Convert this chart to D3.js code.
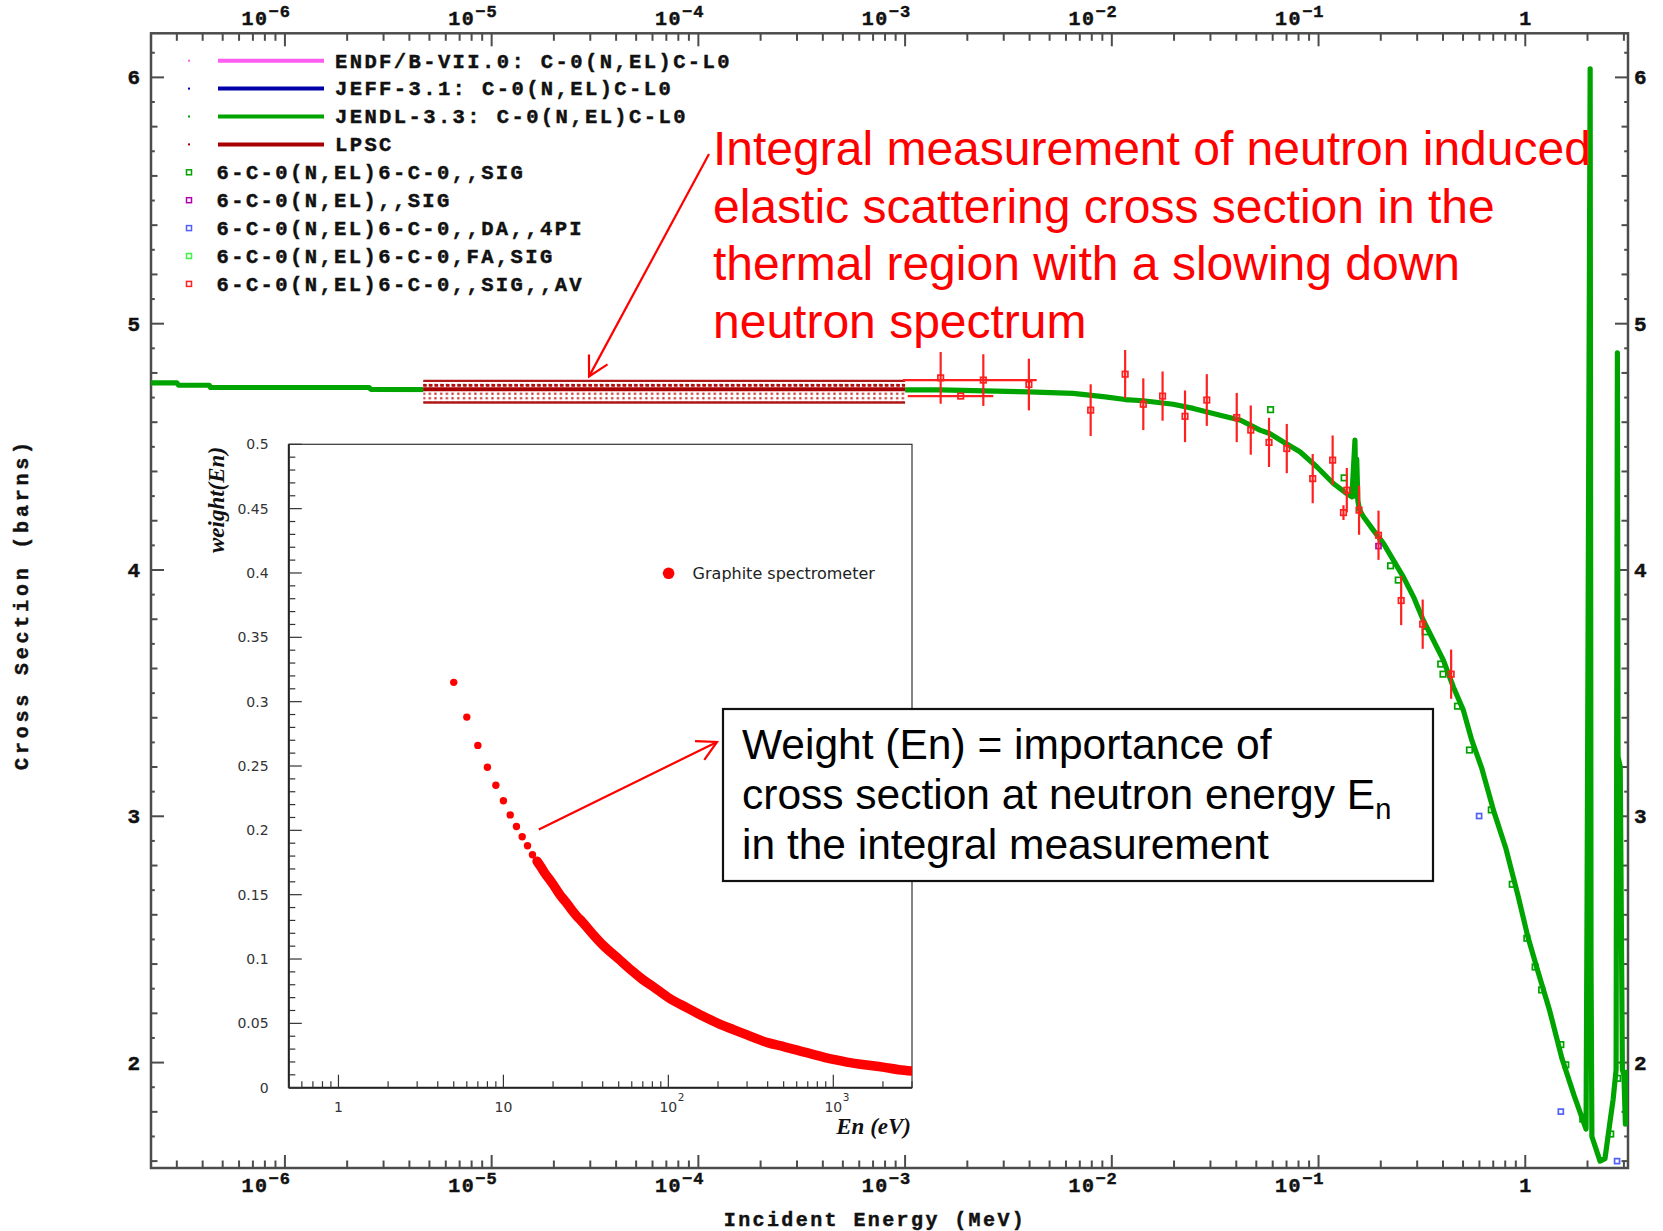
<!DOCTYPE html>
<html><head><meta charset="utf-8">
<script src="https://cdn.jsdelivr.net/npm/d3@7"></script>
<style>body{margin:0;background:#fff;} svg{display:block;}</style>
</head><body>
<svg id="c" width="1663" height="1231"></svg>
<script>
// ================= DATA =================
// JENDL-3.3 C-0(N,EL) evaluated cross section (MeV, barns)
const jendlE = [2.25e-7, 3.0e-7, 3.06e-7, 4.3e-7, 4.37e-7, 2.55e-6, 2.61e-6, 1.48e-3, 3.94e-3, 6.5e-3, 9.3e-3, 0.0116, 0.0142, 0.0198, 0.0248, 0.0334, 0.042, 0.0467, 0.0521, 0.058, 0.0676, 0.0813, 0.098, 0.118, 0.137, 0.145, 0.150, 0.1515, 0.153, 0.155, 0.158, 0.165, 0.184, 0.206, 0.230, 0.257, 0.288, 0.321, 0.359, 0.402, 0.449, 0.502, 0.551, 0.615, 0.705, 0.806, 0.923, 1.028, 1.147, 1.313, 1.503, 1.722, 1.968, 1.99, 2.06, 2.08, 2.10, 2.30, 2.43, 2.57, 2.66, 2.75, 2.79, 2.81, 2.88, 2.95, 3.00, 3.05, 3.08, 3.14];
const jendlXS = [4.760, 4.760, 4.750, 4.750, 4.741, 4.741, 4.733, 4.731, 4.723, 4.717, 4.703, 4.692, 4.687, 4.673, 4.656, 4.628, 4.608, 4.588, 4.568, 4.554, 4.520, 4.480, 4.419, 4.351, 4.310, 4.297, 4.527, 4.300, 4.450, 4.280, 4.243, 4.216, 4.162, 4.108, 4.040, 3.972, 3.891, 3.796, 3.715, 3.633, 3.525, 3.430, 3.309, 3.197, 3.019, 2.869, 2.677, 2.512, 2.375, 2.210, 2.018, 1.867, 1.730, 2.640, 6.035, 2.420, 1.700, 1.600, 1.610, 1.760, 1.850, 1.970, 4.882, 3.243, 3.200, 1.970, 1.950, 1.750, 1.960, 1.950];

// LPSC integral measurement band
const lpscE = [4.67e-6, 1.0e-3];
const lpscXS = [4.734];
const lpscHi = [4.768];
const lpscLo = [4.680];

// 6-C-0(N,EL)6-C-0,,SIG,,AV  (red, with error bars)
const avE   = [1.486e-3, 1.858e-3, 2.39e-3, 3.97e-3, 7.9e-3, 0.0116, 0.0142, 0.0176, 0.0226, 0.0288, 0.0402, 0.047, 0.0576, 0.0702, 0.0937, 0.117, 0.132, 0.137, 0.157, 0.195, 0.251, 0.319, 0.438];
const avXS  = [4.780, 4.706, 4.771, 4.753, 4.649, 4.795, 4.673, 4.706, 4.624, 4.690, 4.619, 4.568, 4.518, 4.493, 4.371, 4.446, 4.233, 4.324, 4.243, 4.141, 3.876, 3.780, 3.577];
const avErr = [0.105, 0, 0.105, 0.105, 0.105, 0.098, 0.105, 0.100, 0.105, 0.105, 0.100, 0.100, 0.100, 0.100, 0.100, 0.100, 0.030, 0.090, 0.100, 0.100, 0.100, 0.100, 0.100];
const avXlo = [0, 1.03e-3, 9.77e-4, 0, 0, 0, 0, 0, 0, 0, 0, 0, 0, 0, 0, 0, 0, 0, 0, 0, 0, 0, 0];
const avXhi = [0, 2.67e-3, 4.33e-3, 0, 0, 0, 0, 0, 0, 0, 0, 0, 0, 0, 0, 0, 0, 0, 0, 0, 0, 0, 0];

// 6-C-0(N,EL)6-C-0,,SIG (green squares)
const sigE  = [0.0586, 0.133, 0.223, 0.243, 0.328, 0.39, 0.40, 0.47, 0.537, 0.685, 0.865, 1.018, 1.116, 1.2, 1.486, 1.57, 1.897, 2.59, 2.80];
const sigXS = [4.651, 4.374, 4.017, 3.959, 3.749, 3.618, 3.577, 3.447, 3.269, 3.026, 2.724, 2.505, 2.388, 2.295, 2.073, 1.991, 1.771, 1.710, 1.936];
// 6-C-0(N,EL)6-C-0,,DA,,4PI (blue squares)
const da4piE  = [0.598, 1.486, 2.78];
const da4piXS = [3.001, 1.801, 1.600];
// 6-C-0(N,EL),,SIG (purple squares)
const nelE  = [0.195];
const nelXS = [4.097];

// Inset: Graphite spectrometer weight(En)
const inEn = [5, 6, 7, 8, 9, 10, 11, 12, 13, 14, 15, 16, 17, 18, 19, 20, 22, 24, 26, 28, 30, 35, 40, 50, 60, 70, 80, 100, 130, 160, 200, 250, 300, 400, 500, 700, 1000, 1500, 2000, 2500, 3000];
const inW  = [0.315, 0.288, 0.266, 0.249, 0.235, 0.223, 0.212, 0.203, 0.195, 0.188, 0.181, 0.176, 0.171, 0.166, 0.162, 0.158, 0.150, 0.144, 0.138, 0.133, 0.129, 0.119, 0.111, 0.100, 0.091, 0.084, 0.079, 0.070, 0.062, 0.056, 0.050, 0.045, 0.041, 0.035, 0.032, 0.027, 0.022, 0.018, 0.016, 0.014, 0.013];

// Legend
const legendLines   = ["ENDF/B-VII.0: C-0(N,EL)C-L0", "JEFF-3.1: C-0(N,EL)C-L0", "JENDL-3.3: C-0(N,EL)C-L0", "LPSC"];
const legendMarkers = ["6-C-0(N,EL)6-C-0,,SIG", "6-C-0(N,EL),,SIG", "6-C-0(N,EL)6-C-0,,DA,,4PI", "6-C-0(N,EL)6-C-0,FA,SIG", "6-C-0(N,EL)6-C-0,,SIG,,AV"];
const legendLineColors   = ["#ff5cf0", "#0000a8", "#00a400", "#a80000"];
const legendMarkerColors = ["#00a400", "#b000b0", "#5060ff", "#44ee44", "#ff2020"];

// Ticks
const xTickVals = [1e-6, 1e-5, 1e-4, 1e-3, 1e-2, 1e-1, 1];
const yTickVals = [2, 3, 4, 5, 6];
const insetYTickVals = [0, 0.05, 0.1, 0.15, 0.2, 0.25, 0.3, 0.35, 0.4, 0.45, 0.5];
const insetYTickLabels = ["0", "0.05", "0.1", "0.15", "0.2", "0.25", "0.3", "0.35", "0.4", "0.45", "0.5"];
const insetXTickVals = [1, 10, 100, 1000];
const insetXTickBase = ["1", "10", "10", "10"];
const insetXTickSup  = ["", "", "2", "3"];

// Annotations
const noteRed = ["Integral measurement of neutron induced", "elastic scattering cross section in the", "thermal region with a slowing down", "neutron spectrum"];
const noteBox = ["Weight (En) = importance of", "cross section at neutron energy E", "in the integral measurement"];

// ================= DRAW =================
const svg = d3.select("#c");
svg.append("rect").attr("width", 1663).attr("height", 1231).attr("fill", "#fff");

const M = {x0: 151, x1: 1628, y0: 33.3, y1: 1168};
const x = d3.scaleLog().domain([2.25e-7, 3.14]).range([M.x0, M.x1]);
const y = d3.scaleLinear().domain([1.572, 6.179]).range([M.y1, M.y0]);

const defs = svg.append("defs");
defs.append("clipPath").attr("id", "clipMain").append("rect")
  .attr("x", M.x0).attr("y", M.y0).attr("width", M.x1 - M.x0).attr("height", M.y1 - M.y0);
const pat = defs.append("pattern").attr("id", "dots").attr("patternUnits", "userSpaceOnUse")
  .attr("width", 5.7).attr("height", 4.4);
pat.append("rect").attr("width", 5.7).attr("height", 4.4).attr("fill", "#fff");
pat.append("rect").attr("x", 1.2).attr("y", 1.2).attr("width", 2.2).attr("height", 2).attr("fill", "#c01818");

const mono = "'Liberation Mono', 'DejaVu Sans Mono', monospace";
const axisCol = "#4c4c4c";
const boldMono = sel => sel.attr("font-family", mono).attr("font-weight", "bold")
  .attr("fill", "#111").attr("stroke", "#111").attr("stroke-width", 0.45);

// frame
svg.append("rect").attr("x", M.x0).attr("y", M.y0).attr("width", M.x1 - M.x0).attr("height", M.y1 - M.y0)
  .attr("fill", "none").attr("stroke", axisCol).attr("stroke-width", 2.5);

// x ticks (log)
const xAll = x.ticks(100).filter(v => v >= x.domain()[0] && v <= x.domain()[1]);
const gx = svg.append("g").attr("stroke", axisCol).attr("stroke-width", 2);
xAll.forEach(v => {
  const lg = Math.log10(v);
  const major = Math.abs(lg - Math.round(lg)) < 1e-9;
  const L = major ? 13 : 7.5;
  gx.append("line").attr("x1", x(v)).attr("x2", x(v)).attr("y1", M.y0).attr("y2", M.y0 + L);
  gx.append("line").attr("x1", x(v)).attr("x2", x(v)).attr("y1", M.y1).attr("y2", M.y1 - L);
});
// y ticks (every 0.1)
const gy = svg.append("g").attr("stroke", axisCol).attr("stroke-width", 2);
d3.range(16, 62).map(i => i / 10).filter(v => v >= y.domain()[0] && v <= y.domain()[1]).forEach(v => {
  const k = Math.round(v * 10);
  const L = (k % 10 === 0) ? 13 : (k % 2 === 0 ? 6.5 : 3.8);
  gy.append("line").attr("x1", M.x0).attr("x2", M.x0 + L).attr("y1", y(v)).attr("y2", y(v));
  gy.append("line").attr("x1", M.x1).attr("x2", M.x1 - L).attr("y1", y(v)).attr("y2", y(v));
});

// x tick labels top & bottom
function xLabel(v, baseY) {
  const lg = Math.round(Math.log10(v));
  const t = svg.append("text").attr("x", x(v) + 6).attr("y", baseY).attr("text-anchor", "end")
    .attr("font-size", 20).call(boldMono);
  if (lg === 0) { t.text("1"); return; }
  t.append("tspan").text("10").attr("letter-spacing", 1.5);
  t.append("tspan").text("\u2212" + Math.abs(lg)).attr("font-size", 17).attr("dy", -8).attr("letter-spacing", 1);
}
xTickVals.forEach(v => { xLabel(v, 25); xLabel(v, 1191.5); });

// y tick labels left & right
yTickVals.forEach(v => {
  svg.append("text").attr("x", 140).attr("y", y(v) + 7).attr("text-anchor", "end")
    .attr("font-size", 21).call(boldMono).text(v);
  svg.append("text").attr("x", 1634).attr("y", y(v) + 7).attr("text-anchor", "start")
    .attr("font-size", 21).call(boldMono).text(v);
});

// axis titles
svg.append("text").attr("x", 875).attr("y", 1225.5).attr("text-anchor", "middle")
  .attr("font-size", 20).attr("letter-spacing", 2.4).call(boldMono).text("Incident Energy (MeV)");
svg.append("text").attr("transform", "translate(28,604) rotate(-90)").attr("text-anchor", "middle")
  .attr("font-size", 20).attr("letter-spacing", 3.8).call(boldMono).text("Cross Section (barns)");

// ---- plot content ----
const plot = svg.append("g").attr("clip-path", "url(#clipMain)");

// JENDL-3.3 curve
const jendl = jendlE.map((e, i) => [e, jendlXS[i]]);
plot.append("path").datum(jendl)
  .attr("d", d3.line().x(d => x(d[0])).y(d => y(d[1])))
  .attr("fill", "none").attr("stroke", legendLineColors[2]).attr("stroke-width", 5.2)
  .attr("stroke-linejoin", "round");

// LPSC band
const bx0 = x(lpscE[0]), bx1 = x(lpscE[1]);
plot.append("rect").attr("x", bx0).attr("y", y(lpscHi[0])).attr("width", bx1 - bx0)
  .attr("height", y(lpscLo[0]) - y(lpscHi[0])).attr("fill", "url(#dots)");
plot.append("line").attr("x1", bx0).attr("x2", bx1).attr("y1", y(lpscHi[0]) + 4.5).attr("y2", y(lpscHi[0]) + 4.5)
  .attr("stroke", "#b01010").attr("stroke-width", 2.6).attr("stroke-dasharray", "3.5,2.2");
[lpscHi[0], lpscLo[0]].forEach(v => {
  plot.append("line").attr("x1", bx0).attr("x2", bx1).attr("y1", y(v)).attr("y2", y(v))
    .attr("stroke", "#b01818").attr("stroke-width", 2.3);
});
plot.append("line").attr("x1", bx0).attr("x2", bx1).attr("y1", y(lpscXS[0])).attr("y2", y(lpscXS[0]))
  .attr("stroke", legendLineColors[3]).attr("stroke-width", 4);

// hollow-square marker helper
function squares(E, S, color, size) {
  plot.append("g").selectAll("rect").data(E.map((e, i) => [e, S[i]])).join("rect")
    .attr("x", d => x(d[0]) - size / 2).attr("y", d => y(d[1]) - size / 2)
    .attr("width", size).attr("height", size)
    .attr("fill", "none").attr("stroke", color).attr("stroke-width", 1.7);
}
squares(sigE, sigXS, legendMarkerColors[0], 5.5);
squares(da4piE, da4piXS, legendMarkerColors[2], 5);
squares(nelE, nelXS, legendMarkerColors[1], 5);

// AV points with error bars
const avCol = legendMarkerColors[4];
const gav = plot.append("g").attr("stroke", avCol);
avE.forEach((e, i) => {
  if (avErr[i] > 0) gav.append("line").attr("x1", x(e)).attr("x2", x(e))
    .attr("y1", y(avXS[i] + avErr[i])).attr("y2", y(avXS[i] - avErr[i])).attr("stroke-width", 2.2);
  if (avXlo[i] > 0) gav.append("line").attr("x1", x(avXlo[i])).attr("x2", x(avXhi[i]))
    .attr("y1", y(avXS[i])).attr("y2", y(avXS[i])).attr("stroke-width", 2.2);
});
squares(avE, avXS, avCol, 5.5);

// ---- legend ----
const lg = svg.append("g").attr("font-size", 20.5).attr("letter-spacing", 2.4).call(boldMono);
const rowY = i => 60.7 + i * 27.9;
legendLines.forEach((t, i) => {
  lg.append("rect").attr("x", 188).attr("y", rowY(i) - 1).attr("width", 2).attr("height", 2)
    .attr("fill", legendLineColors[i]).attr("stroke", "none");
  lg.append("line").attr("x1", 218).attr("x2", 324).attr("y1", rowY(i)).attr("y2", rowY(i))
    .attr("stroke", legendLineColors[i]).attr("stroke-width", 4);
  lg.append("text").attr("x", 335).attr("y", rowY(i) + 6.8).text(t);
});
legendMarkers.forEach((t, j) => {
  const i = j + 4;
  lg.append("rect").attr("x", 186.5).attr("y", rowY(i) - 2.5).attr("width", 5).attr("height", 5)
    .attr("fill", "none").attr("stroke", legendMarkerColors[j]).attr("stroke-width", 1.5);
  lg.append("text").attr("x", 216.5).attr("y", rowY(i) + 6.8).text(t);
});

// ================= INSET =================
const I = {x0: 288.8, x1: 912, y0: 444.3, y1: 1087.7};
const ix = d3.scaleLog().domain([0.5, 3000]).range([I.x0, I.x1]);
const iy = d3.scaleLinear().domain([0, 0.5]).range([I.y1, I.y0]);
defs.append("clipPath").attr("id", "clipInset").append("rect")
  .attr("x", I.x0).attr("y", I.y0).attr("width", I.x1 - I.x0).attr("height", I.y1 - I.y0);
const ig = svg.append("g");
ig.append("rect").attr("x", I.x0).attr("y", I.y0).attr("width", I.x1 - I.x0).attr("height", I.y1 - I.y0)
  .attr("fill", "#fff").attr("stroke", "#333").attr("stroke-width", 1.2);
const sans = "'DejaVu Sans', sans-serif";
// inset data (under axes)
const inPts = inEn.map((e, i) => [e, inW[i]]);
const idg = ig.append("g").attr("clip-path", "url(#clipInset)");
idg.append("path").datum(inPts.filter(d => d[0] >= 16))
  .attr("d", d3.line().x(d => ix(d[0])).y(d => iy(d[1])).curve(d3.curveMonotoneX))
  .attr("fill", "none").attr("stroke", "#ff0000").attr("stroke-width", 9.5).attr("stroke-linecap", "round");
idg.selectAll("circle").data(inPts).join("circle")
  .attr("cx", d => ix(d[0])).attr("cy", d => iy(d[1])).attr("r", 3.7).attr("fill", "#ff0000");
ig.append("line").attr("x1", I.x0).attr("x2", I.x0).attr("y1", I.y0).attr("y2", I.y1).attr("stroke", "#222").attr("stroke-width", 2);
ig.append("line").attr("x1", I.x0).attr("x2", I.x1).attr("y1", I.y1).attr("y2", I.y1).attr("stroke", "#222").attr("stroke-width", 2);
// inset y ticks
d3.range(0, 51).map(i => i / 100).forEach(v => {
  const major = Math.round(v * 100) % 5 === 0;
  ig.append("line").attr("x1", I.x0).attr("x2", I.x0 + (major ? 13 : 6.5)).attr("y1", iy(v)).attr("y2", iy(v))
    .attr("stroke", "#333").attr("stroke-width", 1.2);
});
insetYTickVals.forEach((v, i) => {
  ig.append("text").attr("x", 268.6).attr("y", iy(v) + 5).attr("text-anchor", "end")
    .attr("font-family", sans).attr("font-size", 14).attr("fill", "#333").text(insetYTickLabels[i]);
});
// inset x ticks
ix.ticks(40).filter(v => v >= 0.5 && v <= 3000).forEach(v => {
  const lgv = Math.log10(v);
  const major = Math.abs(lgv - Math.round(lgv)) < 1e-9;
  ig.append("line").attr("x1", ix(v)).attr("x2", ix(v)).attr("y1", I.y1).attr("y2", I.y1 - (major ? 13 : 6.5))
    .attr("stroke", "#333").attr("stroke-width", 1.2);
});
insetXTickVals.forEach((v, i) => {
  ig.append("text").attr("x", ix(v)).attr("y", 1112).attr("text-anchor", "middle")
    .attr("font-family", sans).attr("font-size", 14).attr("fill", "#333").text(insetXTickBase[i]);
  if (insetXTickSup[i]) ig.append("text").attr("x", ix(v) + 9.5).attr("y", 1101).attr("text-anchor", "start")
    .attr("font-family", sans).attr("font-size", 10.5).attr("fill", "#333").text(insetXTickSup[i]);
});
// inset titles
const serif = "'Liberation Serif', 'DejaVu Serif', serif";
ig.append("text").attr("x", 911).attr("y", 1134).attr("text-anchor", "end")
  .attr("font-family", serif).attr("font-style", "italic").attr("font-weight", "bold").attr("font-size", 23)
  .attr("fill", "#111").text("En (eV)");
ig.append("text").attr("transform", "translate(224,500) rotate(-90)").attr("text-anchor", "middle")
  .attr("font-family", serif).attr("font-style", "italic").attr("font-weight", "bold").attr("font-size", 23)
  .attr("fill", "#111").text("weight(En)");
// inset legend
ig.append("circle").attr("cx", 668.6).attr("cy", 573.3).attr("r", 5.8).attr("fill", "#ff0000");
ig.append("text").attr("x", 692.6).attr("y", 579).attr("font-family", sans).attr("font-size", 16)
  .attr("fill", "#222").text("Graphite spectrometer");

// ================= ANNOTATIONS =================
function arrow(x1, y1, x2, y2) {
  const g = svg.append("g").attr("stroke", "#ff0000").attr("stroke-width", 2.2).attr("fill", "none");
  g.append("line").attr("x1", x1).attr("y1", y1).attr("x2", x2).attr("y2", y2);
  const a = Math.atan2(y2 - y1, x2 - x1), h = 0.5, L = 22;
  g.append("path").attr("d", `M${x2 - L * Math.cos(a - h)},${y2 - L * Math.sin(a - h)}L${x2},${y2}L${x2 - L * Math.cos(a + h)},${y2 - L * Math.sin(a + h)}`);
}
// red text + arrow to LPSC band
const rt = svg.append("g").attr("font-family", "'Liberation Sans', Arial, sans-serif").attr("font-size", 48).attr("fill", "#ff0000");
noteRed.forEach((t, i) => rt.append("text").attr("x", 713).attr("y", 165 + i * 57.7).text(t));
arrow(709, 154, x(2.96e-5), y(4.786));

// arrow inset -> box
arrow(ix(16.4), iy(0.2007), 717, 742);

// box
svg.append("rect").attr("x", 723).attr("y", 709).attr("width", 710).attr("height", 172)
  .attr("fill", "#fff").attr("stroke", "#111").attr("stroke-width", 2.2);
const bt = svg.append("g").attr("font-family", "'Liberation Sans', Arial, sans-serif").attr("font-size", 42.5).attr("fill", "#000");
bt.append("text").attr("x", 742).attr("y", 759).text(noteBox[0]);
const t2 = bt.append("text").attr("x", 742).attr("y", 809).text(noteBox[1]);
t2.append("tspan").text("n").attr("font-size", 29).attr("dy", 10);
bt.append("text").attr("x", 742).attr("y", 859).text(noteBox[2]);
</script>
</body></html>
